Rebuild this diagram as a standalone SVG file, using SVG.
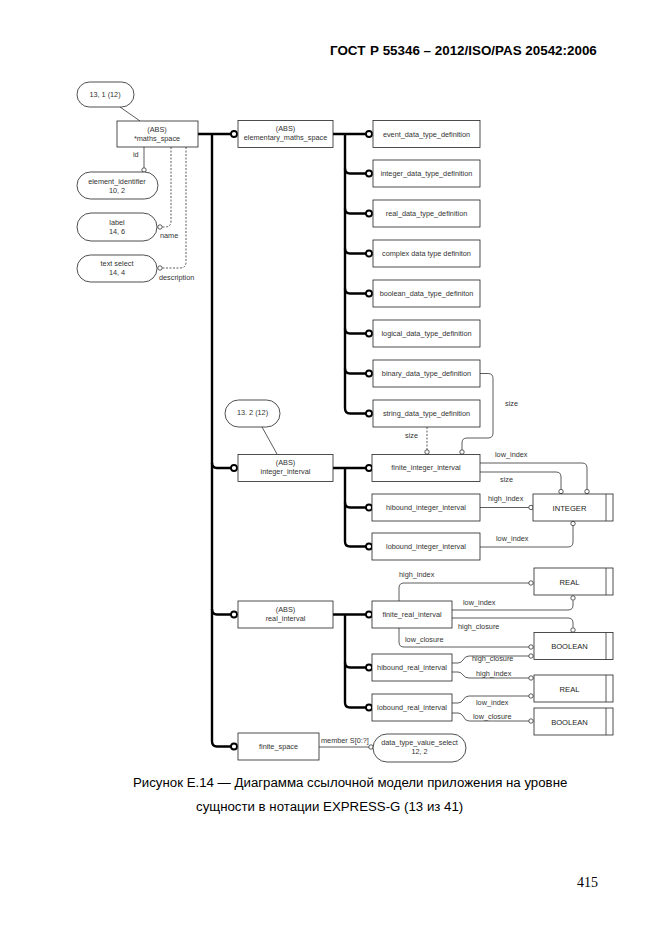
<svg xmlns="http://www.w3.org/2000/svg" width="662" height="935" viewBox="0 0 662 935">
<style>
.bg{fill:#fff}
.box{fill:#fff;stroke:#222;stroke-width:0.8}
.t{font-family:"Liberation Sans",Arial,sans-serif;font-size:7.3px;fill:#333;text-anchor:middle}
.l{font-family:"Liberation Sans",Arial,sans-serif;font-size:7.3px;fill:#333}
.big{font-family:"Liberation Sans",Arial,sans-serif;font-size:7.6px;fill:#222;text-anchor:middle}
.thick{stroke:#000;stroke-width:2.4;fill:none}
.thin{stroke:#333;stroke-width:0.8;fill:none}
.dash{stroke-dasharray:2 1.5}
.cb{fill:#fff;stroke:#000;stroke-width:1.8}
.cs{fill:#fff;stroke:#333;stroke-width:0.8}
.hdr{font-family:"Liberation Sans",Arial,sans-serif;font-size:13.4px;font-weight:bold;fill:#000}
.cap{font-family:"Liberation Sans",Arial,sans-serif;font-size:13.25px;fill:#000}
.pg{font-family:"Liberation Serif","Times New Roman",serif;font-size:14px;fill:#000}
</style>
<rect class="bg" x="0" y="0" width="662" height="935"/>
<text class="hdr" x="330" y="55">ГОСТ</text>
<text class="hdr" x="370" y="55">Р 55346 – 2012/ISO/PAS 20542:2006</text>

<g id="connectors">
  <!-- main trunk -->
  <path class="thick" d="M198 134 H231"/>
  <path class="thick" d="M212 134 V741 Q212 746.5 217 746.5 H231"/>
  <path class="thick" d="M212 463 Q212 468 217 468 H231"/>
  <path class="thick" d="M212 609 Q212 614.5 217 614.5 H231"/>
  <circle class="cb" cx="234" cy="134" r="3"/>
  <circle class="cb" cx="234" cy="468" r="3"/>
  <circle class="cb" cx="234" cy="614.5" r="3"/>
  <circle class="cb" cx="234" cy="746.5" r="3"/>
  <!-- elementary trunk -->
  <path class="thick" d="M333 134 H366"/>
  <path class="thick" d="M345 134 V408 Q345 413.5 350 413.5 H366"/>
  <path class="thick" d="M345 168.5 Q345 173.5 350 173.5 H366"/>
  <path class="thick" d="M345 208.5 Q345 213.5 350 213.5 H366"/>
  <path class="thick" d="M345 248.5 Q345 253.5 350 253.5 H366"/>
  <path class="thick" d="M345 288.5 Q345 293.5 350 293.5 H366"/>
  <path class="thick" d="M345 328.5 Q345 333.5 350 333.5 H366"/>
  <path class="thick" d="M345 368.5 Q345 373.5 350 373.5 H366"/>
  <circle class="cb" cx="369" cy="134" r="3"/>
  <circle class="cb" cx="369" cy="173.5" r="3"/>
  <circle class="cb" cx="369" cy="213.5" r="3"/>
  <circle class="cb" cx="369" cy="253.5" r="3"/>
  <circle class="cb" cx="369" cy="293.5" r="3"/>
  <circle class="cb" cx="369" cy="333.5" r="3"/>
  <circle class="cb" cx="369" cy="373.5" r="3"/>
  <circle class="cb" cx="369" cy="413.5" r="3"/>
  <!-- integer trunk -->
  <path class="thick" d="M333 468 H366"/>
  <path class="thick" d="M345 468 V541.5 Q345 546.5 350 546.5 H366"/>
  <path class="thick" d="M345 502.5 Q345 507.5 350 507.5 H366"/>
  <circle class="cb" cx="369" cy="468" r="3"/>
  <circle class="cb" cx="369" cy="507.5" r="3"/>
  <circle class="cb" cx="369" cy="546.5" r="3"/>
  <!-- real trunk -->
  <path class="thick" d="M333 614.5 H366"/>
  <path class="thick" d="M345 614.5 V702.5 Q345 707.5 350 707.5 H366"/>
  <path class="thick" d="M345 662.5 Q345 667.5 350 667.5 H366"/>
  <circle class="cb" cx="369" cy="614.5" r="3"/>
  <circle class="cb" cx="369" cy="667.5" r="3"/>
  <circle class="cb" cx="369" cy="707.5" r="3"/>

  <!-- top-left attributes -->
  <path class="thin" d="M120 107 L140 121"/>
  <path class="thin" d="M144 147 V168"/>
  <circle class="cs" cx="144" cy="170" r="2.2"/>
  <path class="thin dash" d="M171 147 V221 Q171 227 165 227 H162"/>
  <circle class="cs" cx="160" cy="227" r="2.2"/>
  <path class="thin dash" d="M186 147 V262 Q186 268 180 268 H162"/>
  <circle class="cs" cx="160" cy="268" r="2.2"/>

  <!-- size connectors into finite_integer_interval -->
  <path class="thin" d="M480 373.5 H488 Q493 373.5 493 378.5 V433 Q493 438 488 438 H467 Q462 438 462 443 V450"/>
  <circle class="cs" cx="462" cy="452" r="2.2"/>
  <path class="thin dash" d="M427 427 V450"/>
  <circle class="cs" cx="427" cy="452" r="2.2"/>
  <path class="thin" d="M262 427 L277 454"/>

  <!-- integer -->
  <path class="thin" d="M480 463 H582 Q587 463 587 468 V489"/>
  <circle class="cs" cx="587" cy="491.5" r="2.2"/>
  <path class="thin" d="M480 472 H556 Q561 472 561 477 V489"/>
  <circle class="cs" cx="561" cy="491.5" r="2.2"/>
  <path class="thin" d="M480 507.5 H529"/>
  <circle class="cs" cx="531" cy="507.5" r="2.2"/>
  <path class="thin" d="M480 547 H568 Q573 547 573 542 V526"/>
  <circle class="cs" cx="573" cy="523.5" r="2.2"/>

  <!-- real -->
  <path class="thin" d="M399 601 V588 Q399 583 404 583 H529"/>
  <circle class="cs" cx="531" cy="583" r="2.2"/>
  <path class="thin" d="M452 610 H568 Q573 610 573 605 V600.5"/>
  <circle class="cs" cx="573" cy="598" r="2.2"/>
  <path class="thin" d="M452 618 H568 Q573 618 573 623 V627.5"/>
  <circle class="cs" cx="573" cy="630" r="2.2"/>
  <path class="thin" d="M399 628 V642 Q399 647 404 647 H529"/>
  <circle class="cs" cx="531" cy="647" r="2.2"/>
  <path class="thin" d="M452 663 H458 Q461 663 463 660 Q465 656 469 656 H529"/>
  <circle class="cs" cx="531" cy="656" r="2.2"/>
  <path class="thin" d="M452 672 H458 Q461 672 463 675 Q465 678 469 678 H529"/>
  <circle class="cs" cx="531" cy="678" r="2.2"/>
  <path class="thin" d="M452 703 H458 Q461 703 463 700 Q465 696 469 696 H529"/>
  <circle class="cs" cx="531" cy="696" r="2.2"/>
  <path class="thin" d="M452 713 H458 Q461 713 463 716 Q465 721 469 721 H529"/>
  <circle class="cs" cx="531" cy="721" r="2.2"/>
  <path class="thin" d="M319 747 H369"/>
  <circle class="cs" cx="371" cy="747" r="2.2"/>

  <!-- labels -->
  <text class="l" x="133" y="157">id</text>
  <text class="l" x="160" y="238">name</text>
  <text class="l" x="159" y="280">description</text>
  <text class="l" x="505" y="406">size</text>
  <text class="l" x="405" y="438">size</text>
  <text class="l" x="495" y="457">low_index</text>
  <text class="l" x="500" y="482">size</text>
  <text class="l" x="488" y="501">high_index</text>
  <text class="l" x="496" y="541">low_index</text>
  <text class="l" x="399" y="577">high_index</text>
  <text class="l" x="463" y="605">low_index</text>
  <text class="l" x="458" y="629">high_closure</text>
  <text class="l" x="405" y="642">low_closure</text>
  <text class="l" x="472" y="661">high_closure</text>
  <text class="l" x="476" y="676">high_index</text>
  <text class="l" x="476" y="705">low_index</text>
  <text class="l" x="473" y="719">low_closure</text>
  <text class="l" x="321" y="743">member S[0:?]</text>
</g>

<g id="ref_13_1"><rect class="box" x="77" y="82" width="57" height="25" rx="12.5"/><text class="t" x="105" y="97">13, 1 (12)</text></g>
<g id="maths_space"><rect class="box" x="117" y="121" width="81" height="26"/><text class="t" x="157" y="131.5">(ABS)</text><text class="t" x="157" y="140.5">*maths_space</text></g>
<g id="element_identifier"><rect class="box" x="77" y="172" width="81" height="27" rx="13.5"/><text class="t" x="117" y="184">element_identifier</text><text class="t" x="117" y="193">10, 2</text></g>
<g id="label"><rect class="box" x="77" y="213" width="80" height="28" rx="14"/><text class="t" x="117" y="225">label</text><text class="t" x="117" y="234">14, 6</text></g>
<g id="text_select"><rect class="box" x="77" y="255" width="80" height="27" rx="13.5"/><text class="t" x="117" y="266">text select</text><text class="t" x="117" y="275">14, 4</text></g>

<g id="elementary_maths_space"><rect class="box" x="238" y="120.5" width="95" height="27"/><text class="t" x="285.5" y="131">(ABS)</text><text class="t" x="285.5" y="140">elementary_maths_space</text></g>
<g id="event_data_type_definition"><rect class="box" x="373" y="120.5" width="107" height="27"/><text class="t" x="426.5" y="136.5">event_data_type_definition</text></g>
<g id="integer_data_type_definition"><rect class="box" x="373" y="160" width="107" height="27"/><text class="t" x="426.5" y="176">integer_data_type_definition</text></g>
<g id="real_data_type_definition"><rect class="box" x="373" y="200" width="107" height="27"/><text class="t" x="426.5" y="216">real_data_type_definition</text></g>
<g id="complex_data_type_definition"><rect class="box" x="373" y="240" width="107" height="27"/><text class="t" x="426.5" y="256">complex data type definiton</text></g>
<g id="boolean_data_type_definition"><rect class="box" x="373" y="280" width="107" height="27"/><text class="t" x="426.5" y="296">boolean_data_type_definiton</text></g>
<g id="logical_data_type_definition"><rect class="box" x="373" y="320" width="107" height="27"/><text class="t" x="426.5" y="336">logical_data_type_definition</text></g>
<g id="binary_data_type_definition"><rect class="box" x="373" y="360" width="107" height="27"/><text class="t" x="426.5" y="376">binary_data_type_definition</text></g>
<g id="string_data_type_definition"><rect class="box" x="373" y="400" width="107" height="27"/><text class="t" x="426.5" y="416">string_data_type_definition</text></g>

<g id="ref_13_2"><rect class="box" x="225" y="400" width="55" height="27" rx="13.5"/><text class="t" x="252.5" y="415">13. 2 (12)</text></g>
<g id="integer_interval"><rect class="box" x="238" y="454.5" width="95" height="27"/><text class="t" x="285.5" y="465">(ABS)</text><text class="t" x="285.5" y="474">integer_interval</text></g>
<g id="finite_integer_interval"><rect class="box" x="372" y="454.5" width="108" height="27"/><text class="t" x="426" y="470">finite_integer_interval</text></g>
<g id="hibound_integer_interval"><rect class="box" x="372" y="494" width="108" height="27"/><text class="t" x="426" y="510">hibound_integer_interval</text></g>
<g id="lobound_integer_interval"><rect class="box" x="372" y="533" width="108" height="27"/><text class="t" x="426" y="549">lobound_integer_interval</text></g>
<g id="INTEGER"><rect class="box" x="533" y="494" width="80" height="27"/><line class="thin" x1="606" y1="494" x2="606" y2="521"/><text class="big" x="569.5" y="510.5">INTEGER</text></g>

<g id="real_interval"><rect class="box" x="238" y="601" width="95" height="27"/><text class="t" x="285.5" y="611.5">(ABS)</text><text class="t" x="285.5" y="620.5">real_interval</text></g>
<g id="finite_real_interval"><rect class="box" x="372" y="601" width="80" height="27"/><text class="t" x="412" y="617">finite_real_interval</text></g>
<g id="hibound_real_interval"><rect class="box" x="372" y="654" width="80" height="27"/><text class="t" x="412" y="670">hibound_real_interval</text></g>
<g id="lobound_real_interval"><rect class="box" x="372" y="694" width="80" height="27"/><text class="t" x="412" y="710">lobound_real_interval</text></g>
<g id="REAL_1"><rect class="box" x="534" y="568" width="79" height="27"/><line class="thin" x1="606" y1="568" x2="606" y2="595"/><text class="big" x="569.5" y="584.5">REAL</text></g>
<g id="BOOLEAN_1"><rect class="box" x="534" y="632.5" width="79" height="27"/><line class="thin" x1="606" y1="632.5" x2="606" y2="659.5"/><text class="big" x="569.5" y="649">BOOLEAN</text></g>
<g id="REAL_2"><rect class="box" x="534" y="675" width="79" height="27"/><line class="thin" x1="606" y1="675" x2="606" y2="702"/><text class="big" x="569.5" y="691.5">REAL</text></g>
<g id="BOOLEAN_2"><rect class="box" x="534" y="708" width="79" height="27"/><line class="thin" x1="606" y1="708" x2="606" y2="735"/><text class="big" x="569.5" y="724.5">BOOLEAN</text></g>

<g id="finite_space"><rect class="box" x="238" y="733" width="81" height="27"/><text class="t" x="278.5" y="749">finite_space</text></g>
<g id="data_type_value_select"><rect class="box" x="373" y="734" width="93" height="28" rx="14"/><text class="t" x="419.5" y="745">data_type_value_select</text><text class="t" x="419.5" y="754">12, 2</text></g>

<text class="cap" x="133" y="787">Рисунок Е.14 — Диаграмма ссылочной модели приложения на уровне</text>
<text class="cap" x="196" y="811">сущности в нотации EXPRESS-G (13 из 41)</text>
<text class="pg" x="577" y="887">415</text>
</svg>
